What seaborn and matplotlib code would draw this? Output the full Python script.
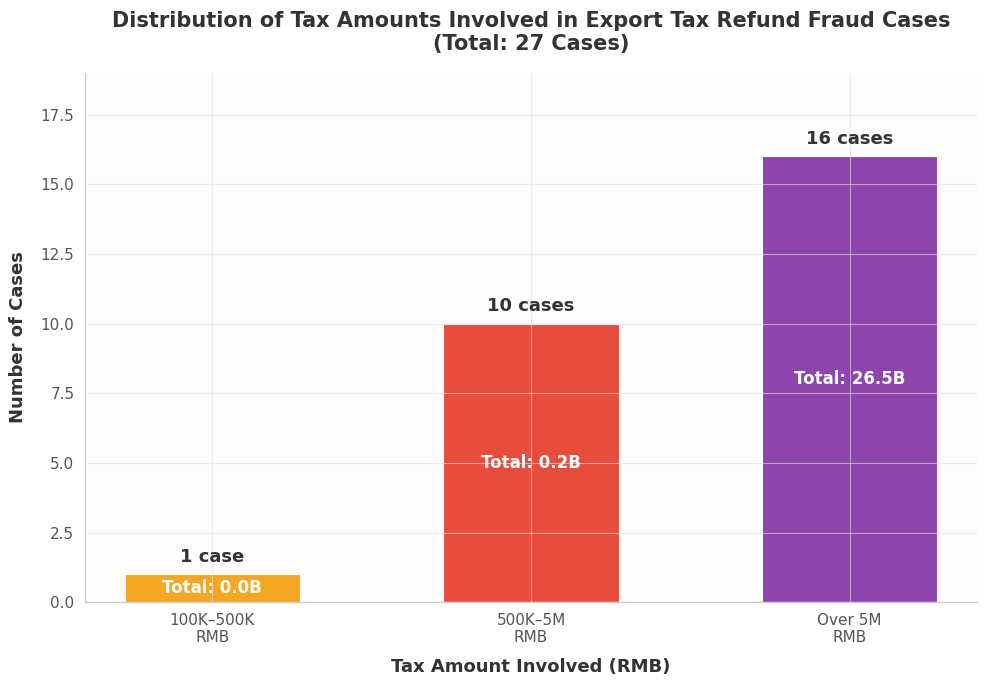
import seaborn as sns
import matplotlib.pyplot as plt
import pandas as pd

# data
categories = ["100K–500K\nRMB", "500K–5M\nRMB", "Over 5M\nRMB"]
case_counts = [1, 10, 16]
total_amounts = [0.0, 0.2, 26.5]  # billions RMB
bar_colors = ["#F5A623", "#E74C3C", "#8E44AD"]

df = pd.DataFrame({"Category": categories, "Cases": case_counts, "Total": total_amounts})

sns.set_style("whitegrid")
plt.rcParams["font.family"] = ["DejaVu Sans"]

fig, ax = plt.subplots(figsize=(9.87, 6.86), dpi=100)
fig.patch.set_facecolor("white")
ax.set_facecolor("#FDFDFD")

sns.barplot(data=df, x="Category", y="Cases", hue="Category", palette=bar_colors,
            width=0.55, legend=False, ax=ax, edgecolor="white", linewidth=0.8, saturation=1)

# gridlines sit on top of the bars in the reference, faint
ax.set_axisbelow(False)
ax.grid(True, color="#E2E2E2", alpha=0.6, linewidth=0.8)

for i, (n, tot) in enumerate(zip(case_counts, total_amounts)):
    label = f"{n} case" if n == 1 else f"{n} cases"
    ax.text(i, n + 0.3, label, ha="center", va="bottom", fontsize=13, fontweight="bold", color="#333333")
    ax.text(i, n / 2, f"Total: {tot:.1f}B", ha="center", va="center", fontsize=12,
            fontweight="bold", color="white")

ax.set_xlim(-0.4, 2.4)
ax.set_ylim(0, 19)
ax.set_yticks([0, 2.5, 5, 7.5, 10, 12.5, 15, 17.5])
ax.tick_params(axis="both", labelsize=11, colors="#555555", length=4)

ax.set_title("Distribution of Tax Amounts Involved in Export Tax Refund Fraud Cases\n(Total: 27 Cases)",
             fontsize=15, fontweight="bold", color="#333333", pad=16)
ax.set_xlabel("Tax Amount Involved (RMB)", fontsize=13, fontweight="bold", color="#333333", labelpad=9)
ax.set_ylabel("Number of Cases", fontsize=13, fontweight="bold", color="#333333", labelpad=10)

for side in ["top", "right"]:
    ax.spines[side].set_visible(False)
for side in ["left", "bottom"]:
    ax.spines[side].set_color("#CCCCCC")
    ax.spines[side].set_linewidth(1)

plt.subplots_adjust(left=0.086, right=0.99, top=0.894, bottom=0.122)
plt.savefig("out.png", dpi=100)
